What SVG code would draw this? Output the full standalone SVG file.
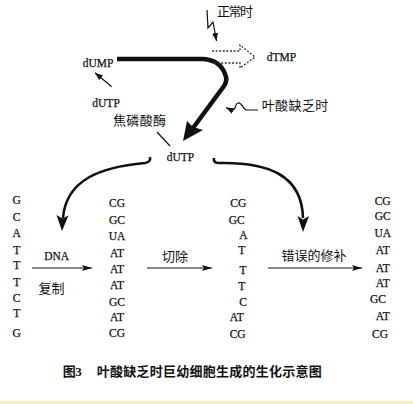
<svg xmlns="http://www.w3.org/2000/svg" width="413" height="404" viewBox="0 0 413 404">
<style>
.t{font-family:"Liberation Serif","Times New Roman",serif;font-size:11.5px;fill:#111;stroke:#111;stroke-width:0.25}
.c{font-family:"Liberation Serif","Noto Sans CJK SC",serif;font-size:13px;fill:#111}
.m{text-anchor:middle}
.ln{fill:none;stroke:#111}
.ah{fill:#111;stroke:none}
</style>
<defs>
<marker id="ar" viewBox="0 0 10 6" refX="10" refY="3" markerWidth="10" markerHeight="6" markerUnits="userSpaceOnUse" orient="auto">
<path d="M0,0 L10,3 L0,6 L2,3 Z" fill="#111"/>
</marker>
<marker id="sa" viewBox="0 0 8 6" refX="8" refY="3" markerWidth="8" markerHeight="6" markerUnits="userSpaceOnUse" orient="auto">
<path d="M0,0 L8,3 L0,6 Z" fill="#111"/>
</marker>
</defs>
<rect x="0" y="0" width="413" height="404" fill="#ffffff"/>
<rect x="0" y="401" width="413" height="3" fill="#fbeec5"/>

<g id="connectors">
<path class="ln" d="M117,59 H203 Q220,60 225,74 Q228,80 224,86 L193,128" stroke-width="4.5" stroke-linecap="butt"/>
<path class="ah" d="M183,141 L187,121 L193,127 L203,130 Z"/>
<path d="M212,51 H240 V45 L255,57 L240,68 V63 H212" fill="none" stroke="#333" stroke-width="1.3" stroke-dasharray="2,1.6"/>
<polyline class="ln" points="207,10 208,28 213,22 216.5,41" stroke-width="1.2" marker-end="url(#sa)"/>
<path class="ln" d="M258,110 H247 C243,110 242,102 238,103 C234,104 237,111 231,110 L226,107.5" stroke-width="1.2" marker-end="url(#sa)"/>
<line class="ln" x1="111.7" y1="86.7" x2="95" y2="72.7" stroke-width="1.2" marker-end="url(#sa)"/>
<line class="ln" x1="157" y1="132" x2="170" y2="146" stroke-width="1.2"/>
<path class="ln" d="M150,157 Q151,162 145,163 C100,167 66,180 63,218" stroke-width="2.6"/>
<path class="ah" d="M62,231 L56.5,215 L62.5,218.5 L68.5,215.5 Z"/>
<path class="ln" d="M214,158 Q213,163 219,163 C268,162 302,175 303,218" stroke-width="2.6"/>
<path class="ah" d="M303,232 L297.5,216 L303,219.5 L309,216 Z"/>
<line class="ln" x1="32" y1="268" x2="92" y2="268" stroke-width="1.2" marker-end="url(#ar)"/>
<line class="ln" x1="147" y1="268" x2="212" y2="268" stroke-width="1.2" marker-end="url(#ar)"/>
<line class="ln" x1="268" y1="268" x2="362" y2="268" stroke-width="1.2" marker-end="url(#ar)"/>
</g>

<g id="node-normal"><text class="c" x="217" y="16" font-size="12" textLength="36">正常时</text></g>
<g id="node-dTMP"><text class="t" x="266.7" y="61">dTMP</text></g>
<g id="node-dUMP"><text class="t" x="82.7" y="67">dUMP</text></g>
<g id="node-dUTP-top"><text class="t" x="92.3" y="107">dUTP</text></g>
<g id="node-folate"><text class="c" x="261.7" y="110" textLength="66.6">叶酸缺乏时</text></g>
<g id="node-enzyme"><text class="c" x="113" y="124.5" textLength="53">焦磷酸酶</text></g>
<g id="node-dUTP"><text class="t" x="166.7" y="161">dUTP</text></g>

<g id="strand-1" class="t m">
<text x="16.7" y="204">G</text>
<text x="16.7" y="221">C</text>
<text x="16.7" y="237">A</text>
<text x="16.7" y="254">T</text>
<text x="16.7" y="269">T</text>
<text x="16.7" y="286">T</text>
<text x="16.7" y="302">C</text>
<text x="16.7" y="317">T</text>
<text x="16.7" y="337">G</text>
</g>
<g id="label-replication">
<text class="t m" x="56.7" y="260" font-size="10">DNA</text>
<text class="c m" x="51.5" y="292.5" font-size="12.5">复制</text>
</g>
<g id="strand-2" class="t m">
<text x="117" y="207">CG</text>
<text x="117" y="224">GC</text>
<text x="117" y="240">UA</text>
<text x="117" y="257">AT</text>
<text x="117" y="273">AT</text>
<text x="117" y="289">AT</text>
<text x="117" y="306">GC</text>
<text x="117" y="321">AT</text>
<text x="117" y="337">CG</text>
</g>
<g id="label-excision"><text class="c m" x="175" y="260.5">切除</text></g>
<g id="strand-3" class="t m">
<text x="238.3" y="207">CG</text>
<text x="236.7" y="223.5">GC</text>
<text x="243.3" y="239">A</text>
<text x="241.7" y="254">T</text>
<text x="243" y="273.5">T</text>
<text x="241.7" y="290">T</text>
<text x="243" y="306">C</text>
<text x="236.7" y="321">AT</text>
<text x="237.7" y="337.5">CG</text>
</g>
<g id="label-repair"><text class="c m" x="314" y="260" textLength="65">错误的修补</text></g>
<g id="strand-4" class="t m">
<text x="382.7" y="205">CG</text>
<text x="382.7" y="220">GC</text>
<text x="382.7" y="236.5">UA</text>
<text x="382.7" y="253.5">AT</text>
<text x="382.7" y="271.5">AT</text>
<text x="382.7" y="287">AT</text>
<text x="378" y="302.5">GC</text>
<text x="382.7" y="320">AT</text>
<text x="380" y="337.5">CG</text>
</g>
<g id="caption">
<text class="c" x="62.7" y="376" font-weight="bold" textLength="19">图3</text>
<text class="c" x="96.7" y="376" font-weight="bold" textLength="225">叶酸缺乏时巨幼细胞生成的生化示意图</text>
</g>
</svg>
